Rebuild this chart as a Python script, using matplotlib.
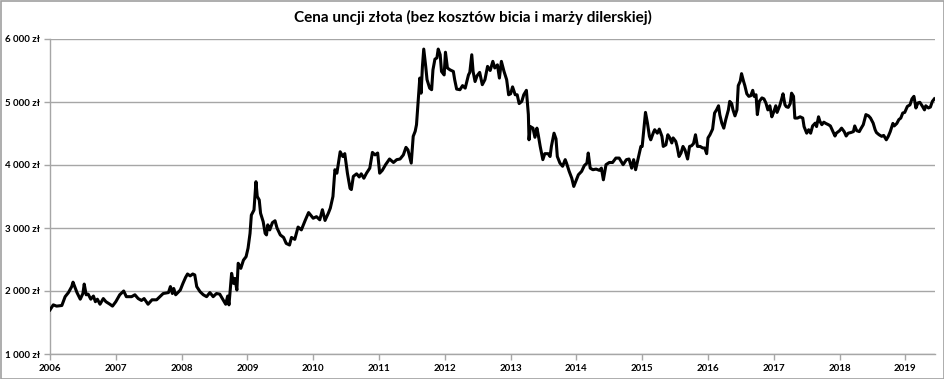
import matplotlib
matplotlib.use("Agg")
import matplotlib.pyplot as plt
from matplotlib.patches import Rectangle
from matplotlib.ticker import FuncFormatter

title = "Cena uncji złota (bez kosztów bicia i marży dilerskiej)"

# decimal year, price (zł)
dates = [
    2006.00, 2006.05, 2006.10, 2006.18, 2006.23, 2006.28, 2006.33, 2006.35, 2006.41, 2006.46,
    2006.50, 2006.52, 2006.55, 2006.58, 2006.62, 2006.66, 2006.69, 2006.72, 2006.76, 2006.81,
    2006.85, 2006.91, 2006.95, 2007.00, 2007.06, 2007.12, 2007.16, 2007.24, 2007.29, 2007.34,
    2007.39, 2007.43, 2007.49, 2007.55, 2007.62, 2007.67, 2007.72, 2007.80, 2007.83, 2007.86,
    2007.88, 2007.91, 2007.98, 2008.02, 2008.06, 2008.09, 2008.13, 2008.17, 2008.20, 2008.23,
    2008.28, 2008.33, 2008.38, 2008.43, 2008.48, 2008.53, 2008.58, 2008.63, 2008.67, 2008.70,
    2008.72, 2008.74, 2008.76, 2008.79, 2008.81, 2008.84, 2008.86, 2008.90, 2008.94, 2008.98,
    2009.01, 2009.04, 2009.06, 2009.10, 2009.13, 2009.15, 2009.18, 2009.20, 2009.24, 2009.27,
    2009.29, 2009.31, 2009.34, 2009.38, 2009.42, 2009.45, 2009.50, 2009.55, 2009.59, 2009.64,
    2009.67, 2009.72, 2009.77, 2009.82, 2009.88, 2009.93, 2009.98,
    2010.00, 2010.05, 2010.10, 2010.14, 2010.18, 2010.23, 2010.26, 2010.30, 2010.33, 2010.36,
    2010.41, 2010.45, 2010.48, 2010.52, 2010.56, 2010.58, 2010.61, 2010.66, 2010.70, 2010.73,
    2010.77, 2010.81, 2010.86, 2010.90, 2010.94, 2010.98, 2011.01, 2011.05, 2011.10, 2011.16,
    2011.22, 2011.27, 2011.32, 2011.37, 2011.41, 2011.44, 2011.49, 2011.52, 2011.55, 2011.57,
    2011.60, 2011.62, 2011.64, 2011.66, 2011.68, 2011.71, 2011.73, 2011.77, 2011.80, 2011.82,
    2011.85, 2011.88, 2011.90, 2011.93, 2011.95, 2011.99, 2012.01, 2012.04, 2012.08, 2012.13,
    2012.15, 2012.18, 2012.23, 2012.27, 2012.31, 2012.36, 2012.38, 2012.41, 2012.43, 2012.46,
    2012.49, 2012.53, 2012.57, 2012.61, 2012.65, 2012.69, 2012.73, 2012.76, 2012.80, 2012.83,
    2012.86, 2012.90, 2012.94, 2012.97, 2013.00, 2013.03, 2013.07, 2013.10, 2013.13, 2013.17,
    2013.20, 2013.24, 2013.27, 2013.28, 2013.30, 2013.34, 2013.37, 2013.40, 2013.42, 2013.45,
    2013.49, 2013.52, 2013.57, 2013.60, 2013.62, 2013.66, 2013.69, 2013.71, 2013.75, 2013.79,
    2013.83, 2013.85, 2013.89, 2013.93, 2013.96, 2013.99, 2014.03, 2014.08, 2014.12, 2014.16,
    2014.18, 2014.21, 2014.25, 2014.30, 2014.35, 2014.38, 2014.41, 2014.45, 2014.50, 2014.55,
    2014.60, 2014.65,
    2014.71, 2014.76, 2014.80, 2014.84, 2014.87, 2014.90, 2014.94, 2014.98, 2015.00, 2015.03,
    2015.05, 2015.08, 2015.11, 2015.13, 2015.17, 2015.19, 2015.23, 2015.26, 2015.30, 2015.32,
    2015.36, 2015.39, 2015.42, 2015.45, 2015.47, 2015.51, 2015.53, 2015.56, 2015.59, 2015.62,
    2015.65, 2015.69, 2015.72, 2015.75, 2015.78, 2015.81, 2015.84, 2015.88, 2015.92, 2015.95,
    2015.98, 2016.00, 2016.03, 2016.07, 2016.10, 2016.13, 2016.16, 2016.18, 2016.21, 2016.24,
    2016.27, 2016.31, 2016.33, 2016.36, 2016.38, 2016.41, 2016.44, 2016.46, 2016.49, 2016.51,
    2016.54, 2016.56, 2016.59, 2016.62, 2016.65, 2016.68, 2016.70, 2016.73, 2016.75, 2016.78,
    2016.82, 2016.85, 2016.88, 2016.91, 2016.94, 2016.97, 2017.00, 2017.03, 2017.05, 2017.09,
    2017.12, 2017.14, 2017.17, 2017.19, 2017.22, 2017.25, 2017.27, 2017.30, 2017.32, 2017.36,
    2017.40, 2017.44, 2017.46, 2017.50, 2017.53, 2017.56, 2017.59, 2017.63, 2017.65, 2017.68,
    2017.70, 2017.73, 2017.76, 2017.79, 2017.83, 2017.86, 2017.90, 2017.93, 2017.95, 2018.00,
    2018.03, 2018.07, 2018.10, 2018.13, 2018.17, 2018.21, 2018.23, 2018.26, 2018.30, 2018.32,
    2018.36, 2018.40, 2018.44, 2018.47, 2018.51, 2018.54, 2018.56, 2018.60, 2018.64, 2018.67,
    2018.71, 2018.74, 2018.77, 2018.81, 2018.83, 2018.87, 2018.90, 2018.93, 2018.96, 2018.99,
    2019.03, 2019.07, 2019.10, 2019.13, 2019.16, 2019.19, 2019.22, 2019.26, 2019.29, 2019.31,
    2019.35, 2019.38, 2019.41, 2019.44,
]

prices = [
    1700, 1780, 1760, 1770, 1910, 1975, 2070, 2140, 1975, 1870,
    1960, 2110, 1940, 1950, 1870, 1920, 1830, 1870, 1790, 1880,
    1830, 1790, 1760, 1830, 1940, 2000, 1910, 1910, 1940, 1880,
    1850, 1880, 1790, 1860, 1860, 1910, 1960, 1975, 2070, 1960,
    2040, 1940, 2015, 2120, 2215, 2270, 2240, 2270, 2255, 2070,
    1990, 1940, 1910, 1975, 1910, 1960, 1950, 1860, 1790, 1920,
    1780, 2025, 2280, 2120, 2200, 2015, 2440, 2360, 2490, 2545,
    2680, 2915, 3205, 3285, 3735, 3500, 3445, 3235, 3100, 2915,
    2890, 3050, 2970, 3085, 3115, 3000, 2890, 2850, 2755, 2730,
    2850, 2820, 3015, 2970, 3125, 3245, 3180,
    3155, 3180, 3130, 3290, 3120, 3235, 3315, 3500, 3925, 3870,
    4210, 4135, 4180, 3870, 3630, 3610, 3820, 3860, 3810, 3860,
    3790, 3870, 3950, 4200, 4160, 4190, 3870, 3915, 4005, 4095,
    4040, 4085, 4095, 4160, 4280, 4240, 4030, 4455, 4535, 4640,
    5090, 5380, 5140, 5565, 5840, 5565, 5355, 5220, 5195, 5510,
    5680, 5700, 5840, 5750, 5485, 5430, 5790, 5540, 5510, 5485,
    5355, 5205, 5195, 5260, 5220, 5430, 5470, 5750, 5485, 5325,
    5415, 5470, 5275, 5355, 5565, 5500, 5645, 5540, 5590, 5380,
    5645, 5485, 5355, 5115, 5130, 5240, 5115, 5115, 4975, 5010,
    5115, 5185, 4800, 4400, 4610, 4585, 4440, 4585, 4480, 4295,
    4085, 4180, 4180, 4135, 4295, 4505, 4415, 4135, 4030, 3980,
    4085, 4030, 3900, 3790, 3660, 3740, 3845, 3900, 3990, 4030,
    4190, 3950, 3925, 3935, 3915, 3950, 3765, 4005, 4040, 4040,
    4110, 4110,
    4005, 4085, 4095, 3950, 4085, 3925, 4110, 4295, 4295, 4610,
    4835, 4665, 4455, 4400, 4515, 4560, 4505, 4570, 4455, 4295,
    4320, 4480, 4430, 4350, 4430, 4375, 4295, 4135, 4190, 4295,
    4240, 4095, 4295, 4305, 4340, 4480, 4295, 4295, 4270, 4270,
    4180, 4430, 4480, 4570, 4825, 4875, 4940, 4795, 4665, 4585,
    4720, 4875, 5010, 4975, 4875, 4780, 4875, 5260, 5330, 5450,
    5330, 5260, 5130, 5090, 5100, 5185, 5090, 5115, 4800, 5010,
    5065, 5050, 4985, 4875, 4940, 4765, 4845, 4940, 4835, 4940,
    5050, 5130, 4955, 4925, 4915, 4975, 5140, 5090, 4745, 4745,
    4765, 4745, 4610, 4505, 4560, 4505, 4620, 4665, 4610, 4765,
    4695, 4640, 4680, 4660, 4640, 4620, 4530, 4460, 4505, 4545,
    4585, 4530, 4460, 4505, 4515, 4530, 4620, 4545, 4530, 4570,
    4640, 4800, 4780, 4745, 4665, 4560, 4515, 4480, 4455, 4470,
    4400, 4455, 4530, 4660, 4620, 4660, 4720, 4745, 4825, 4835,
    4930, 4955, 5050, 5090, 4905, 4985, 4995, 4930, 4875, 4940,
    4905, 4920, 5010, 5050,
]

year_ticks = list(range(2006, 2020))
y_ticks = [1000, 2000, 3000, 4000, 5000, 6000]

W, H = 945, 379
fig = plt.figure(figsize=(W / 100, H / 100), dpi=100)
ax = fig.add_axes([50 / W, 25 / H, 885 / W, 315 / H])

grid_c = "#a6a6a6"
ax.plot(dates, prices, color="black", lw=2.2, solid_joinstyle="round", zorder=3)

ax.set_xlim(2006, 2019.45)
ax.set_ylim(1000, 6000)
ax.set_yticks(y_ticks)
ax.set_xticks(year_ticks)
ax.set_xticklabels([str(y) for y in year_ticks])
ax.yaxis.set_major_formatter(FuncFormatter(lambda v, p: f"{int(v):,}".replace(",", " ") + " zł"))
ax.grid(axis="y", color=grid_c, lw=1)
ax.set_axisbelow(True)
for s in ["top", "right"]:
    ax.spines[s].set_visible(False)
for s in ["left", "bottom"]:
    ax.spines[s].set_color(grid_c)
    ax.spines[s].set_linewidth(1)
ax.tick_params(axis="both", colors=grid_c, length=4, width=1, labelsize=7, labelcolor="black", pad=3)
for lab in ax.get_xticklabels() + ax.get_yticklabels():
    lab.set_fontweight("bold")
    lab.set_family(["Lato", "DejaVu Sans"])

fig.text(0.5, 1 - 17 / H, title, ha="center", va="center", fontsize=11,
         fontweight="bold", family=["Lato", "DejaVu Sans"])

fig.patches.append(Rectangle((0.5 / W, 0.5 / H), 1 - 1.5 / W, 1 - 1.5 / H, transform=fig.transFigure,
                             fill=False, edgecolor="#a0a0a0", lw=1.2))

fig.savefig("out.png", dpi=100)
